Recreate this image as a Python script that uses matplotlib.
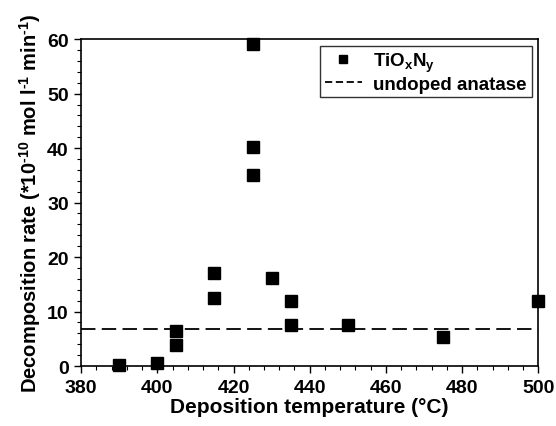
import matplotlib.pyplot as plt
from matplotlib.ticker import MultipleLocator

plt.rcParams['font.family'] = ['Liberation Sans', 'DejaVu Sans']
plt.rcParams['font.weight'] = 'bold'
plt.rcParams['mathtext.fontset'] = 'custom'
plt.rcParams['mathtext.bf'] = 'Liberation Sans:bold'
plt.rcParams['mathtext.rm'] = 'Liberation Sans:bold'
plt.rcParams['mathtext.it'] = 'Liberation Sans:bold'

temperature = [390, 400, 405, 405, 415, 415, 425, 425, 425, 430, 435, 435, 450, 475, 500]
rate = [0.2, 0.5, 6.5, 3.9, 17.0, 12.5, 59.1, 40.2, 35.1, 16.1, 12.0, 7.5, 7.5, 5.3, 12.0]
undoped_rate = 6.8

fig = plt.figure(figsize=(5.56, 4.27), dpi=100)
ax = fig.add_axes([0.146, 0.1405, 0.822, 0.7655])

ax.plot(temperature, rate, 's', color='black', markersize=8, label=r'TiO$_\mathrm{x}$N$_\mathrm{y}$',
        clip_on=False, zorder=3)
ax.axhline(undoped_rate, color='black', linestyle=(0, (8, 3.5)), linewidth=1.3, label='undoped anatase')

ax.set_xlim(380, 500)
ax.set_ylim(0, 60)
ax.xaxis.set_major_locator(MultipleLocator(20))
ax.xaxis.set_minor_locator(MultipleLocator(4))
ax.yaxis.set_major_locator(MultipleLocator(10))
ax.yaxis.set_minor_locator(MultipleLocator(2))
ax.tick_params(which='both', direction='out', top=False, right=False, labelsize=14)
ax.tick_params(which='major', length=5, width=1, pad=4)
ax.tick_params(which='minor', length=3, width=0.8)
for s in ax.spines.values():
    s.set_linewidth(1.2)

ax.set_xlabel('Deposition temperature (°C)', fontsize=15, fontweight='bold', labelpad=1)
ax.set_ylabel(r'Decomposition rate (*10$^\mathrm{\text{-10}}$ mol l$^\mathrm{\text{-1}}$ min$^\mathrm{\text{-1}}$)',
              fontsize=14.5, fontweight='bold', labelpad=3)

leg = ax.legend(loc='upper right', fontsize=13.5, frameon=True, fancybox=False, edgecolor='black',
                handlelength=2.0, handletextpad=0.6, borderaxespad=0.35, borderpad=0.25,
                labelspacing=0.1, markerscale=0.75)
leg.get_frame().set_linewidth(1.0)
leg.get_lines()[1].set_linestyle((0, (4, 2)))

fig.savefig('out.png', dpi=100)
